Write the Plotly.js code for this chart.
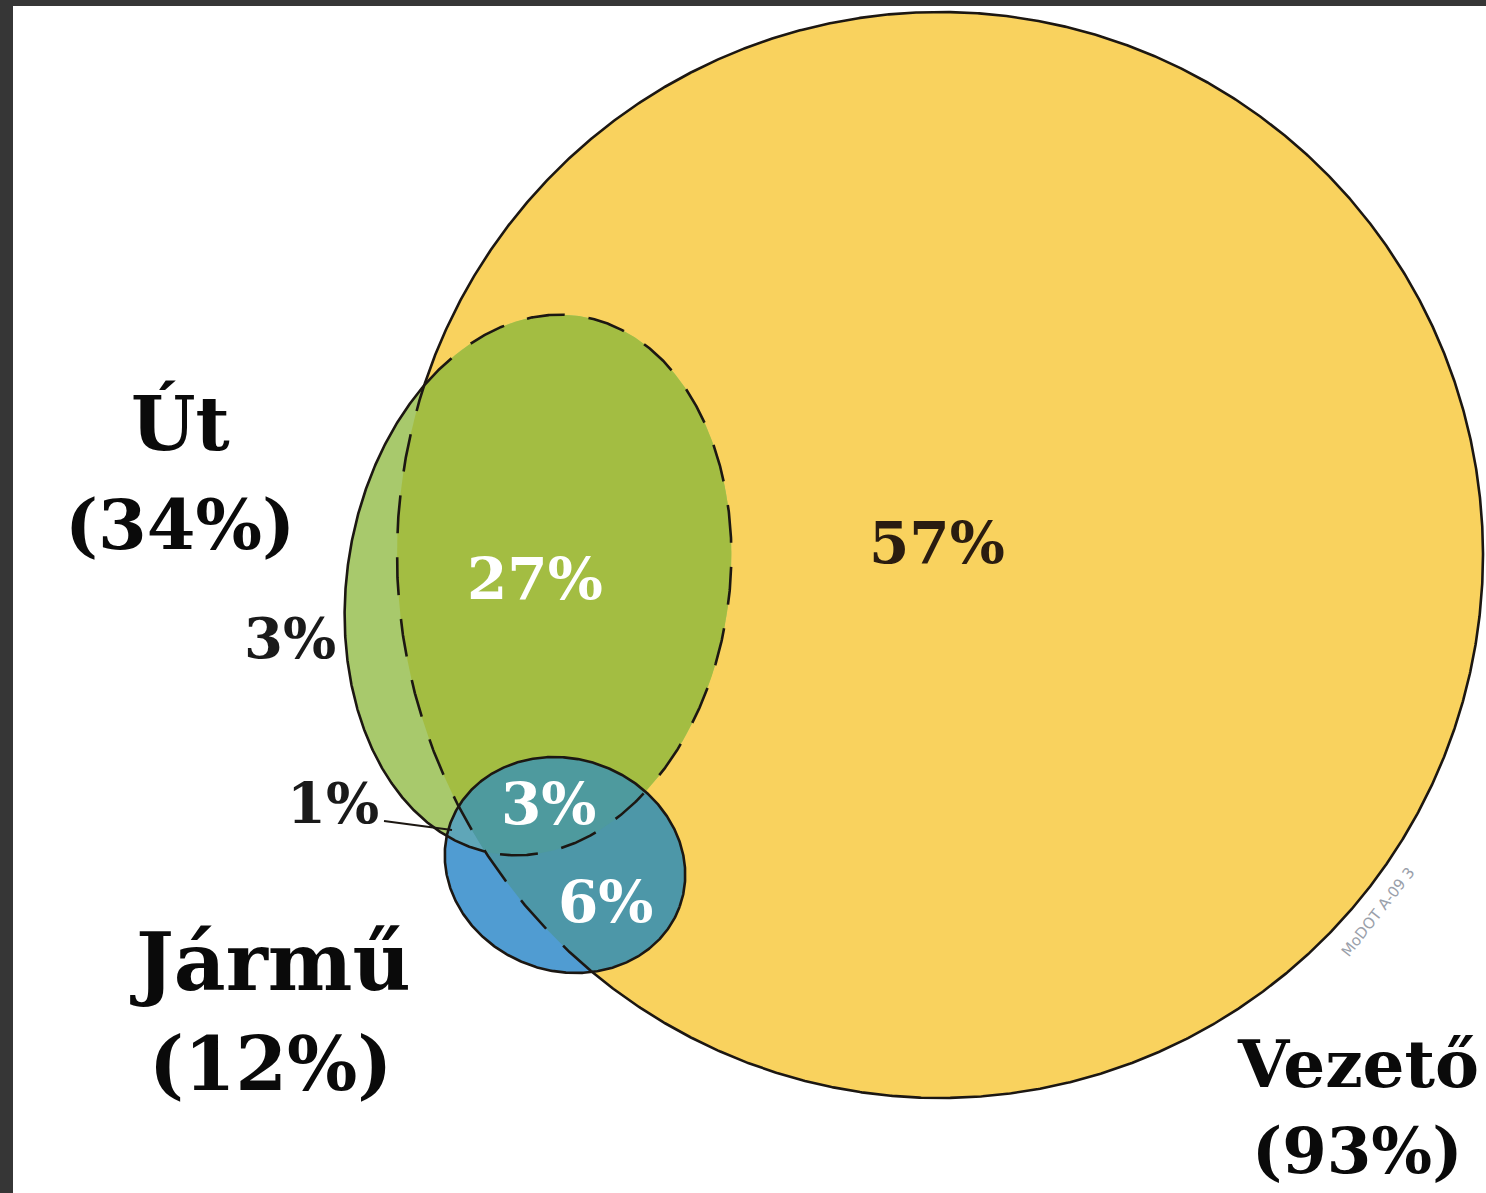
<!DOCTYPE html>
<html><head><meta charset="utf-8">
<script src="https://cdn.plot.ly/plotly-3.0.1.min.js"></script>
<style>html,body{margin:0;padding:0;background:#fff;overflow:hidden;} #chart{width:1486px;height:1193px;}</style>
</head><body><div id="chart"></div>
<script>
// ---- Data ----
const setNames = ['Út', 'Jármű', 'Vezető'];
const setShares = [34, 12, 93];
const regionNames = ['Út only', 'Út ∩ Vezető', 'Út ∩ Jármű', 'Út ∩ Jármű ∩ Vezető', 'Jármű ∩ Vezető', 'Vezető only'];
const regionShares = [3, 27, 1, 3, 6, 57];
const watermark = 'MoDOT A-09 3';

// ---- Geometry (axis units = pixels) ----
const geo = {
  road:    {cx: 538, cy: 585, a: 191, b: 272, rot: 9},
  vehicle: {cx: 565, cy: 865, a: 122, b: 106, rot: 20},
  driver:  {cx: 940, cy: 555, a: 543, b: 543, rot: 0}
};
const colors = {
  driver: '#F9D25E', road: '#A8C96C', roadDriver: '#A3BD42',
  vehicle: '#509CD2', vehicleRoad: '#5FA6B8', vehicleDriver: '#4D97A8', all: '#4E9A9E',
  line: '#1c1712'
};

function ellipsePts(e, n) {
  n = n || 720;
  const th = e.rot * Math.PI / 180, c = Math.cos(th), s = Math.sin(th), pts = [];
  for (let i = 0; i < n; i++) {
    const t = 2 * Math.PI * i / n, ct = Math.cos(t), st = Math.sin(t);
    pts.push([e.cx + e.a * ct * c - e.b * st * s, e.cy + e.a * ct * s + e.b * st * c]);
  }
  return pts;
}
function inside(e, p) {
  const th = e.rot * Math.PI / 180, dx = p[0] - e.cx, dy = p[1] - e.cy;
  const u = dx * Math.cos(th) + dy * Math.sin(th), v = -dx * Math.sin(th) + dy * Math.cos(th);
  return (u * u) / (e.a * e.a) + (v * v) / (e.b * e.b) <= 1;
}
function intersection(list) {
  let pts = [];
  list.forEach((e, i) => {
    ellipsePts(e, 1440).forEach(p => {
      if (list.every((o, j) => j === i || inside(o, p))) pts.push(p);
    });
  });
  const mx = pts.reduce((s, p) => s + p[0], 0) / pts.length;
  const my = pts.reduce((s, p) => s + p[1], 0) / pts.length;
  pts.sort((p, q) => Math.atan2(p[1] - my, p[0] - mx) - Math.atan2(q[1] - my, q[0] - mx));
  return pts;
}
function fillTrace(pts, color) {
  return {type: 'scatter', mode: 'lines', x: pts.map(p => p[0]).concat([pts[0][0]]),
    y: pts.map(p => p[1]).concat([pts[0][1]]), fill: 'toself', fillcolor: color,
    line: {width: 0, color: color}, hoverinfo: 'skip', showlegend: false};
}
function splitRuns(pts, isDashed) {
  const n = pts.length, cls = pts.map(isDashed);
  let start = 0;
  for (let i = 0; i < n; i++) { if (cls[i] !== cls[(i - 1 + n) % n]) { start = i; break; } }
  const out = {solid: {x: [], y: []}, dashed: {x: [], y: []}};
  let cur = null;
  for (let k = 0; k <= n; k++) {
    const i = (start + k) % n, c = cls[i] ? 'dashed' : 'solid';
    if (cur !== c) {
      if (cur) { out[cur].x.push(pts[i][0], null); out[cur].y.push(pts[i][1], null); }
      cur = c;
    }
    out[c].x.push(pts[i][0]); out[c].y.push(pts[i][1]);
  }
  return out;
}
function lineTraces(runs) {
  return [
    {type: 'scatter', mode: 'lines', x: runs.solid.x, y: runs.solid.y, connectgaps: false,
      line: {color: colors.line, width: 2.6}, hoverinfo: 'skip', showlegend: false},
    {type: 'scatter', mode: 'lines', x: runs.dashed.x, y: runs.dashed.y, connectgaps: false,
      line: {color: colors.line, width: 2.6, dash: '38px,24px'}, hoverinfo: 'skip', showlegend: false}
  ];
}

const R = geo.road, V = geo.vehicle, D = geo.driver;
const traces = [
  fillTrace(ellipsePts(D), colors.driver),
  fillTrace(ellipsePts(R), colors.road),
  fillTrace(intersection([R, D]), colors.roadDriver),
  fillTrace(ellipsePts(V), colors.vehicle),
  fillTrace(intersection([V, R]), colors.vehicleRoad),
  fillTrace(intersection([V, D]), colors.vehicleDriver),
  fillTrace(intersection([V, R, D]), colors.all)
];
lineTraces(splitRuns(ellipsePts(D, 2000), p => inside(R, p) || inside(V, p))).forEach(t => traces.push(t));
lineTraces(splitRuns(ellipsePts(R, 1200), p => inside(D, p))).forEach(t => traces.push(t));
lineTraces(splitRuns(ellipsePts(V, 600), p => false)).forEach(t => traces.push(t));
// leader line for the "1%" label
traces.push({type: 'scatter', mode: 'lines', x: [384, 452], y: [821, 830],
  line: {color: colors.line, width: 2}, hoverinfo: 'skip', showlegend: false});

const serif = 'DejaVu Serif, Liberation Serif, serif';
function label(text, x, y, size, color) {
  return {text: text, x: x, y: y, xref: 'x', yref: 'y', showarrow: false,
    xanchor: 'center', yanchor: 'middle',
    font: {family: serif, size: size, color: color || '#0a0a0a', weight: 'bold'}};
}
const pct = v => v + '%';
const annotations = [
  label(setNames[0], 180, 423, 74),
  label('(' + pct(setShares[0]) + ')', 180, 524, 70),
  label(setNames[1], 270, 962, 80),
  label('(' + pct(setShares[1]) + ')', 270, 1064, 74),
  label(setNames[2], 1358, 1064, 66),
  label('(' + pct(setShares[2]) + ')', 1357, 1150, 64),
  label(pct(regionShares[0]), 290, 638, 56, '#1a1a1a'),
  label(pct(regionShares[1]), 535, 579, 58, '#ffffff'),
  label(pct(regionShares[2]), 333, 803, 56, '#1a1a1a'),
  label(pct(regionShares[3]), 548, 804, 58, '#ffffff'),
  label(pct(regionShares[4]), 605, 902, 58, '#ffffff'),
  label(pct(regionShares[5]), 937, 543, 58, '#2a1c10'),
  {text: watermark, x: 1378, y: 912, xref: 'x', yref: 'y', showarrow: false, textangle: -52,
    font: {family: 'DejaVu Sans', size: 15, color: '#9aa0aa'}}
];

const layout = {
  width: 1486, height: 1193, margin: {l: 0, r: 0, t: 0, b: 0, pad: 0},
  paper_bgcolor: '#ffffff', plot_bgcolor: '#ffffff', showlegend: false,
  xaxis: {range: [0, 1486], visible: false, fixedrange: true},
  yaxis: {range: [1193, 0], visible: false, fixedrange: true},
  shapes: [
    {type: 'rect', xref: 'x', yref: 'y', x0: 0, x1: 13, y0: 0, y1: 1193, fillcolor: '#363636', line: {width: 0}},
    {type: 'rect', xref: 'x', yref: 'y', x0: 0, x1: 1486, y0: 0, y1: 6, fillcolor: '#363636', line: {width: 0}}
  ],
  annotations: annotations
};
Plotly.newPlot('chart', traces, layout, {displayModeBar: false, staticPlot: true});
</script>
</body></html>
